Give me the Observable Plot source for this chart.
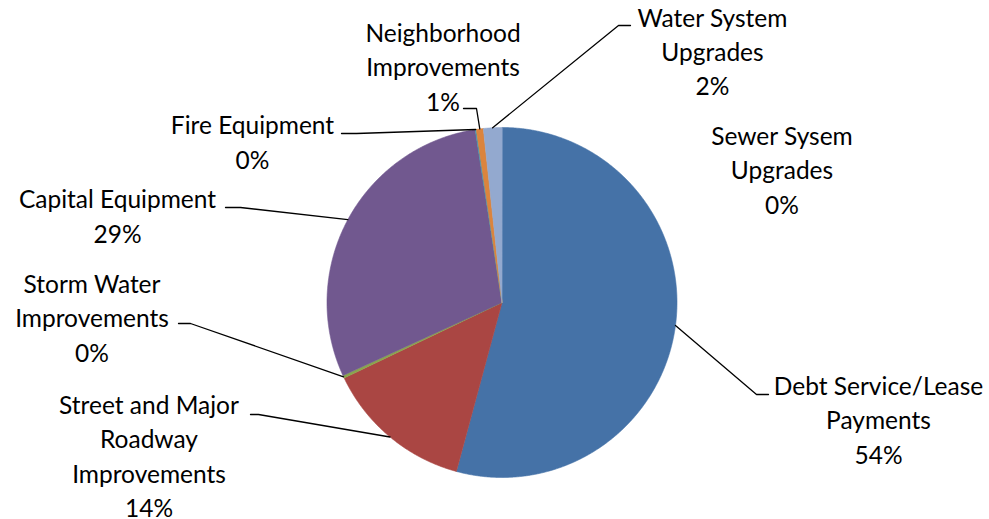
<!DOCTYPE html>
<html><head><meta charset="utf-8">
<script src="https://cdn.jsdelivr.net/npm/d3@7"></script>
<script src="https://cdn.jsdelivr.net/npm/@observablehq/plot@0.6"></script>
<style>body{margin:0;background:#fff}#chart svg{display:block}</style>
</head><body><div id="chart"></div>
<script>
// ---- data ----
const categories = ["Debt Service/Lease Payments", "Street and Major Roadway Improvements", "Storm Water Improvements", "Capital Equipment", "Fire Equipment", "Neighborhood Improvements", "Water System Upgrades", "Sewer Sysem Upgrades"];
const labelLines = [["Debt Service/Lease", "Payments"], ["Street and Major", "Roadway", "Improvements"], ["Storm Water", "Improvements"], ["Capital Equipment"], ["Fire Equipment"], ["Neighborhood", "Improvements"], ["Water System", "Upgrades"], ["Sewer Sysem", "Upgrades"]];
const values = [54.2, 13.7, 0.25, 29.4, 0.1, 0.65, 1.7, 0.0];
const colors = ["#4572A7", "#AA4643", "#89A54E", "#71588F", "#4198AF", "#DB843D", "#93A9CF", "#D19392"];

// ---- layout ----
const W = 989, H = 519, CX = 501.5, CY = 302, R = 175;
const FONT = "Lato, 'Open Sans', sans-serif", FS = 24.5, LH = 34.3;
// label block centre and leader elbow (label side) for each category
const labelLayout = [
  {x: 878, y: 418, elbow: [[768, 394], [756, 394]]},
  {x: 148.5, y: 454, elbow: [[250, 414], [258, 414]]},
  {x: 91.5, y: 316, elbow: [[178, 323], [190, 323]]},
  {x: 117, y: 214, elbow: [[225, 207], [240, 207]]},
  {x: 252, y: 140, elbow: [[341, 133], [356, 133]]},
  {x: 442.5, y: 65, elbow: [[463, 108], [476, 108]]},
  {x: 712, y: 49.5, elbow: [[630, 25], [618, 25]]},
  {x: 781.5, y: 168, elbow: null}
];

const arcs = d3.pie().sort(null).value(d => d)(values);
const pt = (a, r) => [CX + r * Math.sin(a), CY - r * Math.cos(a)];

const slicePts = [];
arcs.forEach((a, i) => {
  if (values[i] <= 0) return;
  const name = categories[i];
  slicePts.push({name, x: CX, y: CY});
  const n = Math.max(2, Math.ceil((a.endAngle - a.startAngle) / 0.005));
  for (let k = 0; k <= n; k++) {
    const t = a.startAngle + (a.endAngle - a.startAngle) * k / n;
    const [x, y] = pt(t, R);
    slicePts.push({name, x, y});
  }
});

const leaderPts = [];
arcs.forEach((a, i) => {
  const L = labelLayout[i];
  if (!L.elbow) return;
  const mid = (a.startAngle + a.endAngle) / 2;
  const [ex, ey] = pt(mid, R);
  L.elbow.forEach(([x, y]) => leaderPts.push({name: categories[i], x, y}));
  leaderPts.push({name: categories[i], x: ex, y: ey});
});

const labels = categories.map((c, i) => ({
  name: c,
  x: labelLayout[i].x,
  y: labelLayout[i].y,
  text: [...labelLines[i], Math.round(values[i]) + "%"].join("\n")
}));

const chart = Plot.plot({
  width: W, height: H,
  margin: 0,
  x: {domain: [0, W], range: [0, W], axis: null},
  y: {domain: [0, H], range: [0, H], axis: null},
  color: {domain: categories, range: colors},
  style: {background: "#fff"},
  marks: [
    Plot.line(slicePts, {x: "x", y: "y", z: "name", fill: "name", stroke: "name", strokeWidth: 0.6, curve: "linear-closed"}),
    Plot.line(leaderPts, {x: "x", y: "y", z: "name", stroke: "#000", strokeWidth: 1.3}),
    Plot.text(labels, {x: "x", y: "y", text: "text", textAnchor: "middle", lineAnchor: "middle", lineHeight: LH / FS, fontSize: FS, fontFamily: FONT, fill: "#000"})
  ]
});
document.getElementById("chart").appendChild(chart);
</script>
</body></html>
